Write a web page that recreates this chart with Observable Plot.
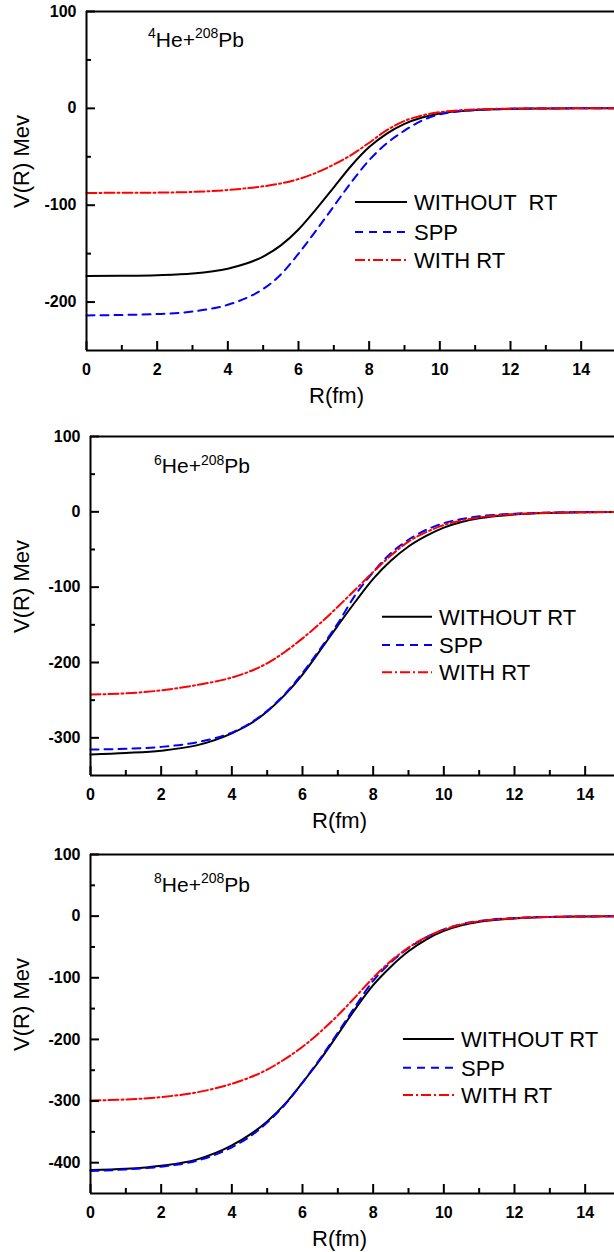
<!DOCTYPE html>
<html><head><meta charset="utf-8">
<script src="https://cdn.jsdelivr.net/npm/d3@7"></script>
<script src="https://cdn.jsdelivr.net/npm/@observablehq/plot@0.6"></script>
<style>
html,body{margin:0;padding:0;background:#fff;width:614px;height:1252px;overflow:hidden;}
#wrap{position:relative;width:614px;height:1252px;}
.panel{position:absolute;left:0;}
</style></head><body><div id="wrap"></div>
<script>
// ---------- data ----------
const R = [0,1,2,3,4,4.5,5,5.5,6,6.5,7,7.5,8,8.5,9,9.5,10,10.5,11,12,13,14,15];

const he4Without = [-173,-172.8,-172.2,-170.5,-165.5,-160.5,-153,-141.5,-125,-104,-81.5,-59,-40,-26,-16,-9.5,-5.3,-3,-1.6,-0.5,-0.15,0,0];
const he4Spp     = [-213.8,-213.3,-212.4,-209.8,-202.8,-196.2,-186.5,-171.5,-150,-126,-101,-76,-53.5,-36,-23,-12.5,-6.2,-3.3,-1.8,-0.5,-0.1,0,0];
const he4WithRT  = [-87.3,-87.2,-87,-86.3,-84.3,-82.6,-80.5,-77.5,-73,-66.5,-58,-48,-35.5,-22.5,-13,-7.3,-4,-2.1,-1.1,-0.3,-0.1,0,0];

const he6Without = [-322,-320,-317,-310,-294,-282,-265,-243,-216,-184,-151,-119,-89,-65,-46,-32,-21,-13.5,-8.5,-3.6,-1.5,-0.6,-0.2];
const he6Spp     = [-315.6,-314.5,-312,-306,-293,-281,-264,-242,-214,-182,-148,-110,-80,-55,-37,-24,-15,-9.5,-6,-2.5,-1,-0.4,-0.2];
const he6WithRT  = [-242.5,-241,-237,-230,-220,-212,-201,-186,-168,-148,-126,-103,-80,-58,-39.5,-27,-17.5,-11.5,-7.5,-3,-1.2,-0.5,-0.2];

const he8Without = [-412,-410,-405,-395,-372,-355,-333,-305,-270,-233,-192,-150,-112,-82,-57,-38,-24,-15,-9.2,-3.8,-1.5,-0.6,-0.2];
const he8Spp     = [-413.5,-411,-406.5,-397,-375,-358,-335,-306,-270,-231,-189,-146,-105,-75,-52,-34.5,-21.5,-13,-7.8,-3,-1.2,-0.5,-0.2];
const he8WithRT  = [-299,-297.5,-293.5,-286,-272,-262,-249,-232,-212,-188,-161,-131,-100,-73,-51,-34,-22,-13.5,-8.3,-3.5,-1.4,-0.5,-0.2];

const seriesKeys = ["WITHOUT RT","SPP","WITH RT"];
const xMajor = [0,2,4,6,8,10,12,14];
const xMinor = [1,3,5,7,9,11,13,15];
const xTitle = "R(fm)";
const yTitle = "V(R) Mev";

const panels = [
  {top:0,   ml:86, yMin:-250, yMajor:[100,0,-100,-200], yMinor:[50,-50,-150],
   series:[he4Without,he4Spp,he4WithRT], label:["4","He+","208","Pb"],
   legendNames:["WITHOUT  RT","SPP","WITH RT"],
   lab:{x:148,y:46.5}, leg:{x1:355,x2:407,tx:414,rows:[202,232,260]}, xt:336},
  {top:425, ml:90, yMin:-350, yMajor:[100,0,-100,-200,-300], yMinor:[50,-50,-150,-250],
   series:[he6Without,he6Spp,he6WithRT], label:["6","He+","208","Pb"],
   legendNames:["WITHOUT RT","SPP","WITH RT"],
   lab:{x:154,y:48.3}, leg:{x1:382,x2:432,tx:439,rows:[191.7,220,247.3]}, xt:339},
  {top:843, ml:90, yMin:-450, yMajor:[100,0,-100,-200,-300,-400], yMinor:[50,-50,-150,-250,-350],
   series:[he8Without,he8Spp,he8WithRT], label:["8","He+","208","Pb"],
   legendNames:["WITHOUT RT","SPP","WITH RT"],
   lab:{x:154,y:48.7}, leg:{x1:403,x2:454,tx:461,rows:[196,224.7,252]}, xt:339}
];

const styles = [
  {stroke:"#000000", dash:null,       w:2},
  {stroke:"#0000ff", dash:"8,6",      w:2},
  {stroke:"#ff0000", dash:"10,3,2,3", w:2}
];

const FONT = "'Liberation Sans', Arial, Helvetica, sans-serif";
const W = 614, MT = 11, PH = 339, MB = 61;
const H = MT + PH + MB;

const wrap = document.getElementById("wrap");

panels.forEach(p => {
  const rows = [];
  p.series.forEach((vals, i) => vals.forEach((v, j) => rows.push({R: R[j], V: v, s: seriesKeys[i]})));

  const svg = Plot.plot({
    width: W, height: H,
    marginLeft: p.ml, marginRight: 0, marginTop: MT, marginBottom: MB,
    x: {domain: [0, 15], range: [p.ml, p.ml + 530]},
    y: {domain: [p.yMin, 100]},
    style: {fontFamily: FONT, fontSize: "16px", fontWeight: "bold", background: "#fff", color: "#000", overflow: "hidden"},
    marks: [
      Plot.ruleY([100], {stroke: "#000", strokeWidth: 2}),
      ...seriesKeys.map((s, i) => Plot.line(rows.filter(d => d.s === s), {
        x: "R", y: "V", stroke: styles[i].stroke, strokeWidth: styles[i].w,
        strokeDasharray: styles[i].dash, curve: "monotone-x"
      })),
      Plot.axisX({ticks: xMajor, tickSize: -9, text: null, label: null, strokeWidth: 2}),
      Plot.axisX({ticks: xMinor, tickSize: -5, text: null, label: null, strokeWidth: 2}),
      Plot.axisX({ticks: xMajor, tickSize: 0, tickPadding: 13, label: null, tickFormat: d => String(d)}),
      Plot.axisY({ticks: p.yMajor, tickSize: -9, text: null, label: null, strokeWidth: 2}),
      Plot.axisY({ticks: p.yMinor, tickSize: -5, text: null, label: null, strokeWidth: 2}),
      Plot.axisY({ticks: p.yMajor, tickSize: 0, tickPadding: 10, label: null, tickFormat: d => String(d)}),
      Plot.ruleX([0], {stroke: "#000", strokeWidth: 2}),
      Plot.ruleY([p.yMin], {stroke: "#000", strokeWidth: 2}),
      Plot.text([yTitle], {frameAnchor: "left", rotate: -90, textAnchor: "middle", lineAnchor: "middle",
        dx: 21 - p.ml, dy: -19.5, fontSize: 22, fontWeight: "normal", fill: "#000"}),
      Plot.text([xTitle], {frameAnchor: "bottom", textAnchor: "middle", lineAnchor: "middle",
        dx: p.xt - (p.ml + W) / 2, dy: 45, fontSize: 22, fontWeight: "normal", fill: "#000"})
    ]
  });

  const g = d3.select(svg).append("g").attr("font-family", FONT).attr("font-weight", "normal")
    .attr("text-anchor", "start");
  // panel label with superscripts
  const t = g.append("text").attr("x", p.lab.x).attr("y", p.lab.y).attr("fill", "#000")
    .attr("text-anchor", "start");
  t.append("tspan").attr("font-size", 14).attr("dy", -8.5).text(p.label[0]);
  t.append("tspan").attr("font-size", 21).attr("dy", 8.5).text(p.label[1]);
  t.append("tspan").attr("font-size", 14).attr("dy", -8.5).text(p.label[2]);
  t.append("tspan").attr("font-size", 21).attr("dy", 8.5).text(p.label[3]);

  // legend
  p.legendNames.forEach((name, i) => {
    const y = p.leg.rows[i];
    g.append("line").attr("x1", p.leg.x1).attr("x2", p.leg.x2).attr("y1", y).attr("y2", y)
      .attr("stroke", styles[i].stroke).attr("stroke-width", 2)
      .attr("stroke-dasharray", styles[i].dash);
    g.append("text").attr("x", p.leg.tx).attr("y", y + 7.8).attr("font-size", 22)
      .attr("text-anchor", "start")
      .attr("fill", "#000").style("white-space", "pre").text(name);
  });

  const div = document.createElement("div");
  div.className = "panel";
  div.style.top = p.top + "px";
  div.appendChild(svg);
  wrap.appendChild(div);
});
</script>
</body></html>
